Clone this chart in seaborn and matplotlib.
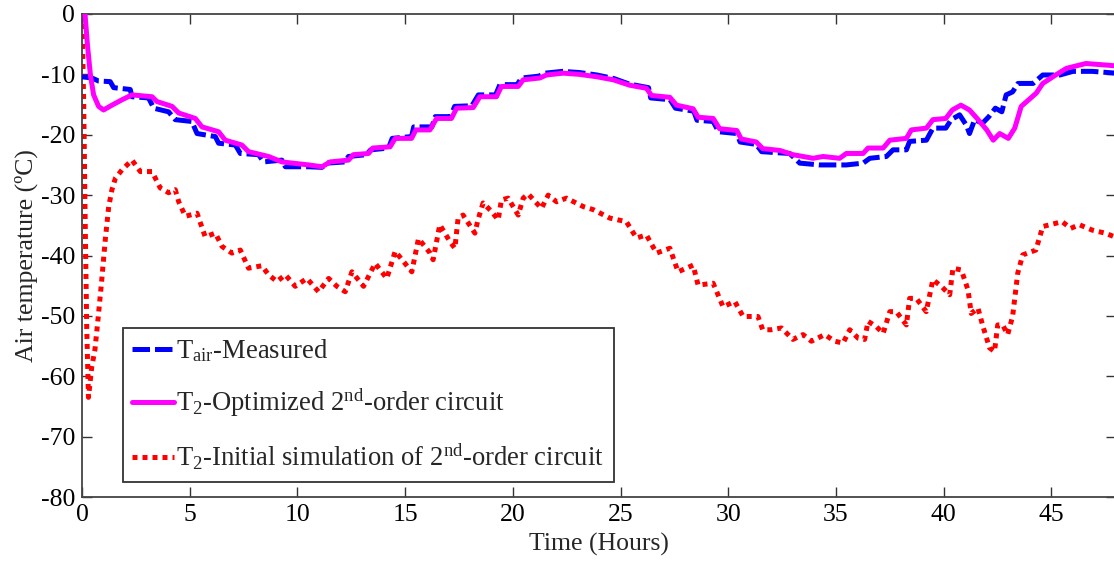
import numpy as np
import pandas as pd
import matplotlib
matplotlib.use("Agg")
import matplotlib.pyplot as plt
import seaborn as sns

# ---------------- data ----------------
meas_t = [0.0, 0.46, 0.77, 1.31, 1.47, 2.24, 2.32, 3.09, 3.33, 4.02, 4.33, 5.1, 5.34, 6.19, 6.34,
          7.12, 7.35, 8.2, 8.43, 9.28, 9.44, 10.52, 11.14, 11.37, 12.22, 12.37, 13.2, 13.4, 14.23,
          14.4, 15.3, 15.4, 16.24, 16.4, 17.1, 17.3, 18.1, 18.4, 19.2, 19.4, 20.2, 20.4, 21.2, 21.5,
          22.3, 23.1, 23.9, 24.7, 25.4, 26.3, 26.4, 27.3, 27.55, 28.4, 28.55, 29.3, 29.55, 30.4,
          30.55, 31.3, 31.55, 32.39, 32.85, 33.32, 34.25, 35.48, 36.26, 36.57, 37.34, 37.65, 38.27,
          38.42, 39.2, 39.5, 40.1, 40.35, 40.74, 41.05, 41.2, 41.44, 41.8, 42.1, 42.4, 42.7, 42.9,
          43.2, 43.45, 44.15, 44.6, 45.4, 46.0, 46.9, 48.0]
meas_T = [-10.4, -10.6, -11.1, -11.2, -12.2, -12.5, -13.7, -13.9, -15.6, -16.2, -17.5, -17.8, -19.8,
          -20.3, -21.4, -21.7, -23.1, -23.3, -24.5, -24.2, -25.3, -25.3, -25.4, -24.7, -24.5, -23.6,
          -23.3, -22.5, -22.2, -20.6, -20.3, -18.7, -18.7, -17.0, -17.0, -15.3, -15.2, -13.4, -13.4,
          -11.7, -11.7, -10.6, -10.3, -9.8, -9.5, -9.7, -10.1, -10.7, -11.6, -12.2, -13.9, -14.2,
          -15.6, -16.1, -17.6, -17.8, -19.5, -19.8, -21.2, -21.6, -22.8, -23.0, -23.1, -24.7, -25.0,
          -25.0, -24.7, -23.9, -23.6, -22.5, -22.5, -21.1, -20.9, -18.9, -18.9, -17.5, -16.7, -18.4,
          -19.8, -17.5, -18.1, -17.0, -15.6, -16.2, -13.4, -12.9, -11.5, -11.5, -10.1, -10.1, -9.5,
          -9.5, -9.8]

opt_t = [0.14, 0.25, 0.39, 0.54, 0.77, 1.0, 1.39, 1.86, 2.32, 3.25, 3.48, 4.18, 4.49, 5.26, 5.57,
         6.34, 6.65, 7.42, 7.73, 8.66, 9.28, 10.52, 11.14, 11.52, 12.37, 12.6, 13.3, 13.5, 14.3,
         14.54, 15.3, 15.5, 16.15, 16.46, 17.15, 17.39, 18.16, 18.47, 19.24, 19.47, 20.25, 20.48,
         21.25, 21.56, 22.34, 23.1, 23.9, 24.66, 25.43, 26.2, 26.44, 27.29, 27.6, 28.37, 28.6,
         29.3, 29.6, 30.4, 30.6, 31.3, 31.6, 32.4, 33.0, 33.94, 34.4, 35.17, 35.48, 36.26, 36.49,
         37.19, 37.5, 38.27, 38.5, 39.2, 39.5, 40.1, 40.4, 40.8, 41.2, 41.6, 42.0, 42.3, 42.6,
         43.0, 43.3, 43.6, 44.3, 44.6, 45.2, 45.7, 46.6, 47.7, 48.0]
opt_T = [0.0, -5.0, -10.1, -13.4, -15.3, -15.9, -15.1, -14.2, -13.4, -13.7, -14.5, -15.3, -16.4,
         -17.3, -18.7, -19.5, -20.9, -21.7, -22.8, -23.6, -24.5, -25.0, -25.3, -24.5, -24.2, -23.3,
         -23.1, -22.2, -22.0, -20.6, -20.6, -19.2, -19.2, -17.3, -17.3, -15.6, -15.5, -13.7, -13.7,
         -12.0, -12.0, -10.9, -10.6, -10.1, -9.8, -10.0, -10.4, -10.9, -11.8, -12.3, -13.5, -13.8,
         -15.1, -15.7, -17.1, -17.3, -19.0, -19.3, -20.7, -21.2, -22.3, -22.6, -23.3, -23.9, -23.6,
         -23.9, -23.1, -23.1, -22.2, -22.2, -20.9, -20.6, -19.2, -18.9, -17.5, -17.3, -15.9, -15.1,
         -15.9, -17.5, -19.2, -20.9, -19.8, -20.6, -18.9, -15.3, -13.1, -11.5, -10.1, -9.0, -8.2,
         -8.5, -8.6]

init_t = [0.0, 0.08, 0.15, 0.22, 0.3, 0.45, 0.6, 0.75, 0.9, 1.08, 1.24, 1.39, 1.55, 1.86, 2.32,
          2.71, 3.25, 3.63, 4.02, 4.33, 4.49, 4.8, 5.34, 5.72, 6.19, 6.5, 6.96, 7.35, 7.73, 8.35,
          8.66, 9.05, 9.44, 9.9, 10.44, 10.98, 11.45, 11.83, 12.22, 12.53, 13.07, 13.61, 14.15,
          14.54, 15.31, 15.62, 16.16, 16.3, 16.61, 17.08, 17.31, 17.46, 17.69, 18.24, 18.38, 18.62,
          19.01, 19.32, 19.47, 19.78, 20.25, 20.48, 20.71, 21.33, 21.64, 22.03, 22.49, 23.27,
          23.73, 24.5, 25.27, 25.74, 26.2, 26.67, 27.29, 27.67, 28.37, 28.6, 29.3, 29.76, 30.3,
          30.69, 31.38, 31.6, 32.0, 32.47, 33.0, 33.47, 33.86, 34.48, 34.94, 35.33, 35.64, 36.03,
          36.33, 36.49, 36.88, 37.19, 37.5, 37.8, 38.27, 38.42, 38.73, 39.19, 39.5, 39.89, 40.28,
          40.43, 40.82, 41.13, 41.28, 41.59, 41.82, 42.13, 42.36, 42.51, 42.74, 42.97, 43.2, 43.44,
          43.67, 44.28, 44.6, 45.5, 45.9, 46.3, 46.9, 47.5, 48.0]
init_T = [0.0, -15.0, -35.0, -52.0, -63.5, -58.5, -55.6, -50.3, -44.7, -37.4, -31.9, -29.1, -27.2,
          -25.8, -24.2, -26.1, -26.1, -28.8, -29.6, -29.1, -31.1, -33.5, -33.0, -36.9, -36.3, -38.5,
          -39.6, -39.1, -42.1, -41.7, -43.2, -44.3, -43.2, -45.1, -43.8, -46.0, -43.8, -45.1, -46.0,
          -42.7, -45.1, -41.3, -43.8, -39.3, -42.7, -37.2, -39.6, -40.7, -34.9, -37.7, -38.8, -33.8,
          -33.3, -36.3, -34.1, -31.3, -32.7, -34.1, -30.8, -30.5, -33.3, -30.5, -29.8, -32.2, -30.0,
          -31.1, -30.5, -31.9, -32.4, -33.8, -34.4, -37.1, -36.6, -39.6, -38.8, -42.7, -41.6, -44.9,
          -44.6, -48.5, -47.6, -50.1, -50.1, -52.3, -52.3, -52.0, -53.9, -53.1, -54.2, -53.1, -54.2,
          -54.5, -52.3, -53.7, -53.9, -50.9, -51.8, -52.9, -49.3, -49.3, -51.5, -47.1, -47.1, -49.3,
          -44.0, -45.1, -46.5, -42.1, -42.4, -45.7, -49.6, -48.7, -51.7, -55.3, -55.9, -51.5, -51.5,
          -53.1, -50.1, -42.9, -39.9, -39.1, -35.2, -34.4, -35.5, -34.9, -35.8, -36.3, -37.0]

labels = [r"$\mathrm{T_{air}}$-Measured",
          r"$\mathrm{T_{2}}$-Optimized $\mathrm{2^{nd}}$-order circuit",
          r"$\mathrm{T_{2}}$-Initial simulation of $\mathrm{2^{nd}}$-order circuit"]
x_ticks = [0, 5, 10, 15, 20, 25, 30, 35, 40, 45]
y_ticks = [0, -10, -20, -30, -40, -50, -60, -70, -80]

# ---------------- style ----------------
sns.set_style("ticks")
plt.rcParams["font.family"] = ["Liberation Serif", "DejaVu Serif"]
plt.rcParams["mathtext.fontset"] = "custom"
plt.rcParams["mathtext.rm"] = "Liberation Serif"
plt.rcParams["mathtext.it"] = "Liberation Serif:italic"
plt.rcParams["axes.unicode_minus"] = False

W, H = 1114, 561
fig = plt.figure(figsize=(W / 100, H / 100), dpi=100)
left, right, top, bottom = 82, 1116, 14, 497
ax = fig.add_axes([left / W, 1 - bottom / H, (right - left) / W, (bottom - top) / H])

df_meas = pd.DataFrame({"t": meas_t, "T": meas_T})
df_opt = pd.DataFrame({"t": opt_t, "T": opt_T})
df_init = pd.DataFrame({"t": init_t, "T": init_T})

lw = 3.6
sns.lineplot(data=df_init, x="t", y="T", ax=ax, color=(1, 0, 0), linewidth=lw,
             linestyle=(0, (1, 1.0)), label=labels[2], estimator=None, zorder=2)
sns.lineplot(data=df_meas, x="t", y="T", ax=ax, color=(0, 0, 1), linewidth=lw,
             linestyle=(0, (3.5, 1.0)), label=labels[0], estimator=None, zorder=3)
sns.lineplot(data=df_opt, x="t", y="T", ax=ax, color=(1, 0, 1), linewidth=lw,
             linestyle="-", label=labels[1], estimator=None, zorder=4)

ax.set_xlim(0, 48)
ax.set_ylim(-80, 0)
ax.set_xticks(x_ticks)
ax.set_yticks(y_ticks)
ax.tick_params(direction="in", length=7, width=1, top=True, right=True,
               labelsize=18.5, colors="#333333", labelcolor="black", pad=5)
for s in ax.spines.values():
    s.set_color("#444444")
    s.set_linewidth(1.3)

ax.set_xlabel("Time (Hours)", fontsize=18.5, labelpad=5)
ax.set_ylabel("Air temperature (ºC)", fontsize=18.5, labelpad=2)

handles, labs = ax.get_legend_handles_labels()
order = [labs.index(l) for l in labels]
leg = ax.legend([handles[i] for i in order], [labs[i] for i in order],
                loc="upper left", bbox_to_anchor=(0.0397, 0.35), borderaxespad=0,
                fontsize=19.2, frameon=True, fancybox=False, edgecolor="black",
                handlelength=1.55, handletextpad=0.1, labelspacing=0.85,
                borderpad=0.35)
leg.get_frame().set_linewidth(1.3)

fig.savefig("out.png", dpi=100)
